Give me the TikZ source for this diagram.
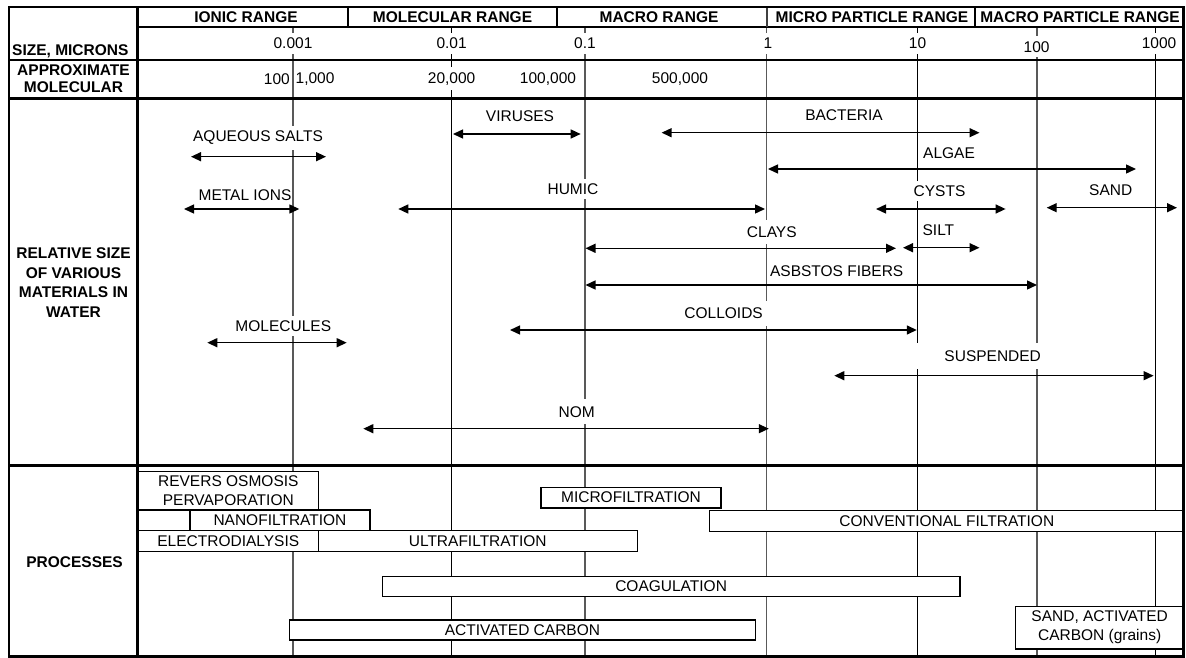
\documentclass[tikz,border=0pt]{standalone}
\usepackage{fontspec}
\setmainfont{Liberation Sans}
\usetikzlibrary{arrows.meta}
\begin{document}
\begin{tikzpicture}[x=1pt,y=-1pt,
  every node/.style={font=\fontsize{15.5}{18}\selectfont, inner sep=0pt},
  hdr/.style={font=\fontsize{15.5}{18}\selectfont\bfseries},
  lab/.style={fill=white, inner xsep=3pt, inner ysep=5pt},
  val/.style={fill=white, inner xsep=1pt, inner ysep=5pt},
  gridA/.style={draw=black!65, line width=1.6pt},
  gridB/.style={draw=black, line width=1pt},
  dimarrow/.style={{Triangle[length=10pt,width=9pt]}-{Triangle[length=10pt,width=9pt]}, line width=1.4pt},
  pbox/.style={draw, fill=white, line width=1.2pt, anchor=north west, align=center, inner sep=0pt,
               font=\fontsize{15.5}{18.6}\selectfont},
  rulethick/.style={line width=2.2pt},
]
\useasboundingbox (0,0) rectangle (1186,658);

% ---------- vertical scale lines ----------
\foreach \x/\s [count=\i] in {293/gridA,451.5/gridB,585/gridA,766.5/gridA,917.5/gridB,1037/gridA,1155.5/gridB} {
  \coordinate (gt\i) at (\x,27);
  \coordinate (gb\i) at (\x,656.5);
  \draw[\s] (gt\i) -- (gb\i);
}

% ---------- header texts ----------
\node[hdr] (rion) at (246,16.7) {IONIC RANGE};
\node[hdr] (rmol) at (452.5,16.7) {MOLECULAR RANGE};
\node[hdr] (rmac) at (659,16.7) {MACRO RANGE};
\node[hdr] (rmic) at (872,16.7) {MICRO PARTICLE RANGE};
\node[hdr] (rmpa) at (1080,16.7) {MACRO PARTICLE RANGE};

\node[hdr, anchor=west] (hsize) at (12,51.7) {SIZE, MICRONS};
\node[hdr, align=center, font=\fontsize{15.5}{17}\selectfont\bfseries] (happ) at (73.5,78.5) {APPROXIMATE\\MOLECULAR};
\node[hdr, align=center, font=\fontsize{15.5}{19.8}\selectfont\bfseries] (hrel) at (73.5,282.5) {RELATIVE SIZE\\OF VARIOUS\\MATERIALS IN\\WATER};
\node[hdr] (hproc) at (74.6,562) {PROCESSES};

% size values
\node[val] (s1) at (293,43.3) {0.001};
\node[val] (s2) at (451.6,43.3) {0.01};
\node[val] (s3) at (585,43.3) {0.1};
\node[val] (s4) at (768,43.3) {1};
\node[val] (s5) at (917.6,43.3) {10};
\node[val] (s6) at (1036.6,46.7) {100};
\node[val] (s7) at (1159,43.3) {1000};

% molecular weights
\node[anchor=east] (m1) at (290,78.7) {100};
\node[anchor=west] (m2) at (295.5,78.7) {1,000};
\node[val] (m3) at (451.6,78.7) {20,000};
\node (m4) at (548,78.7) {100,000};
\node (m5) at (680,78.7) {500,000};

% ---------- material labels ----------
\node[lab] (tvir) at (520,115.7) {VIRUSES};
\node[lab] (taq) at (258,138) {AQUEOUS SALTS};
\node (tmet) at (245,195) {METAL IONS};
\node[lab] (thum) at (573,189) {HUMIC};
\node[lab] (tbac) at (844,115) {BACTERIA};
\node[lab] (talg) at (949,153) {ALGAE};
\node[lab] (tcys) at (939.5,191) {CYSTS};
\node[lab] (tsand) at (1110.7,190) {SAND};
\node[lab, inner ysep=7pt] (tcla) at (771.8,232) {CLAYS};
\node[lab, inner xsep=1pt] (tsil) at (938.4,230) {SILT};
\node[lab, inner xsep=1.5pt] (tasb) at (836.7,270.7) {ASBSTOS FIBERS};
\node[lab, inner xsep=7pt, inner ysep=7pt] (tcol) at (723.6,313.3) {COLLOIDS};
\node[lab] (tmolc) at (283.3,326) {MOLECULES};
\node[lab, minimum width=158pt, minimum height=26pt] (tsus) at (992.7,356) {SUSPENDED};
\node[lab, inner ysep=7pt] (tnom) at (576.7,411.7) {NOM};

% ---------- size-range arrows ----------
\foreach \n/\y/\a/\b in {vir/134/453/580.7, aq/156.7/191/326, met/209/184/299.3,
  hum/209/398.3/765, bac/132.7/661.6/979.5, alg/169/768/1136, cys/209/876/1005.6,
  sand/207.7/1046.7/1177, cla/248.3/585.5/896, sil/247.7/903/979.5,
  asb/285/585.5/1037, col/330/510/916.8, molc/342.7/207.3/346.7,
  sus/375.7/834.3/1153.6, nom/428.7/363.3/768.8} {
  \coordinate (\n-l) at (\a,\y);
  \coordinate (\n-r) at (\b,\y);
  \draw[dimarrow] (\n-l) -- (\n-r);
}

% ---------- processes ----------
\node[pbox, minimum width=179.8pt, minimum height=38.6pt] (pro) at (137.8,470.7) {REVERS OSMOSIS\\PERVAPORATION};
\node[pbox, minimum width=51.6pt, minimum height=20.7pt] (pemp) at (137.8,509.3) {};
\node[pbox, minimum width=179.9pt, minimum height=20.7pt] (pnan) at (189.4,509.3) {NANOFILTRATION};
\node[pbox, minimum width=179.8pt, minimum height=20.7pt] (pele) at (137.8,530) {ELECTRODIALYSIS};
\node[pbox, minimum width=319.1pt, minimum height=20.7pt] (pult) at (317.6,530) {ULTRAFILTRATION};
\node[pbox, minimum width=180pt, minimum height=20.6pt] (pmic) at (540.4,486.7) {MICROFILTRATION};
\node[pbox, minimum width=474.5pt, minimum height=20.7pt] (pcon) at (709,510) {CONVENTIONAL FILTRATION};
\node[pbox, minimum width=577.8pt, minimum height=20.3pt] (pcoa) at (381.6,575.7) {COAGULATION};
\node[pbox, minimum width=465.6pt, minimum height=20pt] (pact) at (289,619.3) {ACTIVATED CARBON};
\node[pbox, minimum width=168.9pt, minimum height=42.6pt, font=\fontsize{15.5}{19}\selectfont] (psan) at (1014.6,605.7) {SAND, ACTIVATED\\CARBON (grains)};

% ---------- table rules ----------
\coordinate (fTL) at (9,7);
\coordinate (fBR) at (1183.5,656.5);
\coordinate (cT) at (137.5,7);
\coordinate (cB) at (137.5,656.5);
\draw[rulethick] (cT) -- (cB);
\coordinate (h1l) at (137.5,26.7); \coordinate (h1r) at (1183.5,26.7);
\draw[line width=2pt] (h1l) -- (h1r);
\coordinate (h2l) at (9,60.5); \coordinate (h2r) at (1183.5,60.5);
\draw[line width=2pt] (h2l) -- (h2r);
\coordinate (h3l) at (9,98.5); \coordinate (h3r) at (1183.5,98.5);
\draw[line width=2.6pt] (h3l) -- (h3r);
\coordinate (h4l) at (9,465.7); \coordinate (h4r) at (1183.5,465.7);
\draw[line width=2.6pt] (h4l) -- (h4r);
\foreach \x [count=\i] in {347.5,557.3,975} {
  \coordinate (dt\i) at (\x,7);
  \coordinate (db\i) at (\x,26.7);
  \draw[line width=2pt] (dt\i) -- (db\i);
}
\coordinate (dt4) at (766.5,7); \coordinate (db4) at (766.5,26.7);
\draw[line width=2pt, black!75] (dt4) -- (db4);
\draw[rulethick] (fTL) rectangle (fBR);
\end{tikzpicture}
\end{document}
